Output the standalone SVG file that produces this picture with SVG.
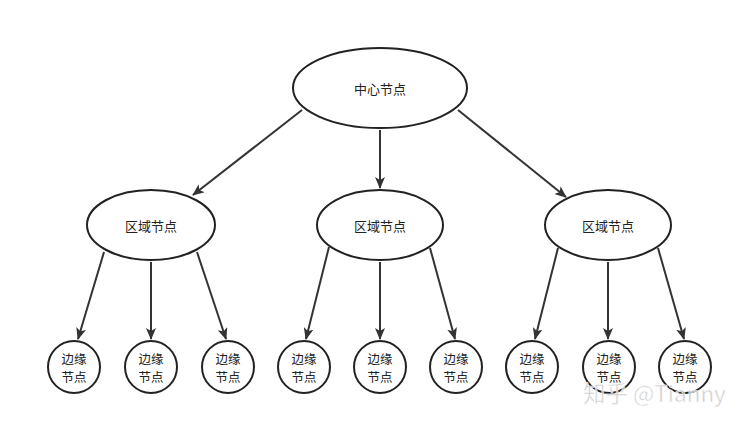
<svg xmlns="http://www.w3.org/2000/svg" width="744" height="426" viewBox="0 0 744 426">
<defs>
<marker id="ah" viewBox="0 0 12 10" refX="11" refY="5" markerWidth="12" markerHeight="10" markerUnits="userSpaceOnUse" orient="auto">
<path d="M0,0 L12,5 L0,10 L3,5 Z" fill="#333"/>
</marker>
</defs>
<style>
.n{fill:#fff;stroke:#222;stroke-width:2}
.t{font-family:"Noto Sans CJK SC","Liberation Sans",sans-serif;font-size:13px;fill:#222;text-anchor:middle;dominant-baseline:central}
.s{font-family:"Noto Sans CJK SC","Liberation Sans",sans-serif;font-size:12.5px;fill:#222;text-anchor:middle;dominant-baseline:central}
.e{stroke:#333;stroke-width:2;fill:none;marker-end:url(#ah)}
</style>
<rect width="744" height="426" fill="#fff"/>
<g id="connectors">
<line class="e" x1="302" y1="110" x2="193" y2="195"/>
<line class="e" x1="380" y1="130" x2="380" y2="188"/>
<line class="e" x1="458" y1="110" x2="566" y2="197"/>
<line class="e" x1="104" y1="252" x2="78" y2="339"/>
<line class="e" x1="151" y1="262" x2="151" y2="339"/>
<line class="e" x1="197" y1="252" x2="226" y2="339"/>
<line class="e" x1="329" y1="247" x2="306" y2="339"/>
<line class="e" x1="380" y1="262" x2="380" y2="339"/>
<line class="e" x1="430" y1="248" x2="455" y2="339"/>
<line class="e" x1="558" y1="248" x2="535" y2="339"/>
<line class="e" x1="608" y1="262" x2="608" y2="339"/>
<line class="e" x1="658" y1="248" x2="684" y2="339"/>
</g>
<g id="center"><ellipse class="n" cx="380" cy="88" rx="87" ry="40"/><text class="t" x="380" y="88">中心节点</text></g>
<g id="region1"><ellipse class="n" cx="151" cy="225" rx="64" ry="35"/><text class="t" x="151" y="225">区域节点</text></g>
<g id="region2"><ellipse class="n" cx="380" cy="225" rx="63" ry="35"/><text class="t" x="380" y="225">区域节点</text></g>
<g id="region3"><ellipse class="n" cx="608" cy="225" rx="63" ry="35"/><text class="t" x="608" y="225">区域节点</text></g>
<g id="edge1"><circle class="n" cx="74" cy="367" r="26"/><text class="s" x="74" y="358">边缘</text><text class="s" x="74" y="376">节点</text></g>
<g id="edge2"><circle class="n" cx="151" cy="367" r="26"/><text class="s" x="151" y="358">边缘</text><text class="s" x="151" y="376">节点</text></g>
<g id="edge3"><circle class="n" cx="228" cy="367" r="26"/><text class="s" x="228" y="358">边缘</text><text class="s" x="228" y="376">节点</text></g>
<g id="edge4"><circle class="n" cx="304" cy="367" r="26"/><text class="s" x="304" y="358">边缘</text><text class="s" x="304" y="376">节点</text></g>
<g id="edge5"><circle class="n" cx="380" cy="367" r="26"/><text class="s" x="380" y="358">边缘</text><text class="s" x="380" y="376">节点</text></g>
<g id="edge6"><circle class="n" cx="456" cy="367" r="26"/><text class="s" x="456" y="358">边缘</text><text class="s" x="456" y="376">节点</text></g>
<g id="edge7"><circle class="n" cx="532" cy="367" r="26"/><text class="s" x="532" y="358">边缘</text><text class="s" x="532" y="376">节点</text></g>
<g id="edge8"><circle class="n" cx="609" cy="367" r="26"/><text class="s" x="609" y="358">边缘</text><text class="s" x="609" y="376">节点</text></g>
<g id="edge9"><circle class="n" cx="685" cy="367" r="26"/><text class="s" x="685" y="358">边缘</text><text class="s" x="685" y="376">节点</text></g>
<text x="583" y="402" font-family="Noto Sans CJK SC,Liberation Sans,sans-serif" font-size="22.5" fill="#c4c4c4" fill-opacity="0.85" stroke="#fff" stroke-width="0.5">知乎 @Tianny</text>
</svg>
